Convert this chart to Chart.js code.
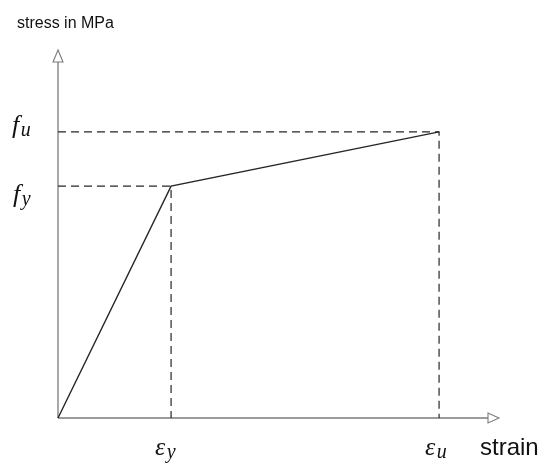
<!DOCTYPE html>
<html>
<head>
<meta charset="utf-8">
<script src="https://cdn.jsdelivr.net/npm/chart.js@4.4.1/dist/chart.umd.min.js"></script>
<style>
  html, body { margin: 0; padding: 0; background: #ffffff; }
  #wrap { width: 543px; height: 464px; }
</style>
</head>
<body>
<div id="wrap"><canvas id="c" width="543" height="464"></canvas></div>
<script>
// Bilinear stress-strain law: origin -> yield point -> ultimate point
const strain = [0, 1, 3.37];          // 0, ε_y, ε_u (relative strain)
const stress = [0, 235, 290];         // 0, f_y, f_u (MPa)
const pointSubscripts = ['', 'y', 'u'];
const strainAxisMax = 3.9;
const stressAxisMax = 373;
const axisTitles = ['stress in MPa', 'strain'];

const curve = strain.map((x, i) => ({ x: x, y: stress[i] }));

// dashed projection of a characteristic point onto both axes
function guide(i) {
  return [
    { x: 0, y: stress[i] },
    { x: strain[i], y: stress[i] },
    { x: strain[i], y: 0 }
  ];
}

const lineColor = '#262626';
const axisColor = '#7b7b7b';

// axes with open triangular arrowheads
const axesPlugin = {
  id: 'axesArrows',
  beforeDatasetsDraw(chart) {
    const { ctx } = chart;
    const xs = chart.scales.x, ys = chart.scales.y;
    const x0 = xs.getPixelForValue(0), y0 = ys.getPixelForValue(0);
    const xEnd = xs.getPixelForValue(strainAxisMax);
    const yEnd = ys.getPixelForValue(stressAxisMax);
    ctx.save();
    ctx.strokeStyle = axisColor;
    ctx.lineWidth = 1.3;
    ctx.beginPath();
    ctx.moveTo(x0, y0);
    ctx.lineTo(x0, yEnd + 12);
    ctx.moveTo(x0, y0);
    ctx.lineTo(xEnd - 11, y0);
    ctx.stroke();
    ctx.lineWidth = 1.1;
    ctx.fillStyle = '#ffffff';
    // vertical arrow
    ctx.beginPath();
    ctx.moveTo(x0, yEnd);
    ctx.lineTo(x0 - 5, yEnd + 12);
    ctx.lineTo(x0 + 5, yEnd + 12);
    ctx.closePath();
    ctx.fill();
    ctx.stroke();
    // horizontal arrow
    ctx.beginPath();
    ctx.moveTo(xEnd, y0);
    ctx.lineTo(xEnd - 11, y0 - 5);
    ctx.lineTo(xEnd - 11, y0 + 5);
    ctx.closePath();
    ctx.fill();
    ctx.stroke();
    ctx.restore();
  },
  afterDraw(chart) {
    const { ctx } = chart;
    const xs = chart.scales.x, ys = chart.scales.y;
    ctx.save();
    ctx.fillStyle = '#111111';
    ctx.textBaseline = 'alphabetic';
    ctx.textAlign = 'left';
    // axis titles
    ctx.font = '16px "Liberation Sans", Arial, sans-serif';
    ctx.fillText(axisTitles[0], 17, 28);
    ctx.font = '24px "Liberation Sans", Arial, sans-serif';
    ctx.fillText(axisTitles[1], xs.getPixelForValue(strainAxisMax) - 19, ys.getPixelForValue(0) + 37);

    function symbol(base, sub, x, y) {
      ctx.font = 'italic 26px "Liberation Serif", "DejaVu Serif", serif';
      ctx.fillText(base, x, y);
      const w = ctx.measureText(base).width;
      ctx.font = 'italic 20px "Liberation Serif", "DejaVu Serif", serif';
      ctx.fillText(sub, x + w + 1.5, y + 3);
    }
    // stress symbols on the vertical axis
    symbol('f', pointSubscripts[2], 12, ys.getPixelForValue(stress[2]) + 1);
    symbol('f', pointSubscripts[1], 13, ys.getPixelForValue(stress[1]) + 16);
    // strain symbols below the horizontal axis
    const yb = ys.getPixelForValue(0) + 37;
    symbol('\u03B5', pointSubscripts[1], xs.getPixelForValue(strain[1]) - 16, yb);
    symbol('\u03B5', pointSubscripts[2], xs.getPixelForValue(strain[2]) - 14, yb);
    ctx.restore();
  }
};

new Chart(document.getElementById('c'), {
  type: 'scatter',
  data: {
    datasets: [
      {
        data: curve,
        showLine: true,
        borderColor: lineColor,
        borderWidth: 1.4,
        pointRadius: 0,
        tension: 0,
        clip: false
      },
      {
        data: guide(1),
        showLine: true,
        borderColor: lineColor,
        borderWidth: 1.2,
        borderDash: [8, 5],
        pointRadius: 0,
        tension: 0,
        clip: false
      },
      {
        data: guide(2),
        showLine: true,
        borderColor: lineColor,
        borderWidth: 1.2,
        borderDash: [8, 5],
        pointRadius: 0,
        tension: 0,
        clip: false
      }
    ]
  },
  options: {
    responsive: false,
    animation: false,
    devicePixelRatio: 1,
    layout: { padding: { left: 58, right: 44, top: 50, bottom: 46 } },
    plugins: { legend: { display: false }, tooltip: { enabled: false } },
    scales: {
      x: { type: 'linear', min: 0, max: strainAxisMax, display: false },
      y: { type: 'linear', min: 0, max: stressAxisMax, display: false }
    }
  },
  plugins: [axesPlugin]
});
</script>
</body>
</html>
